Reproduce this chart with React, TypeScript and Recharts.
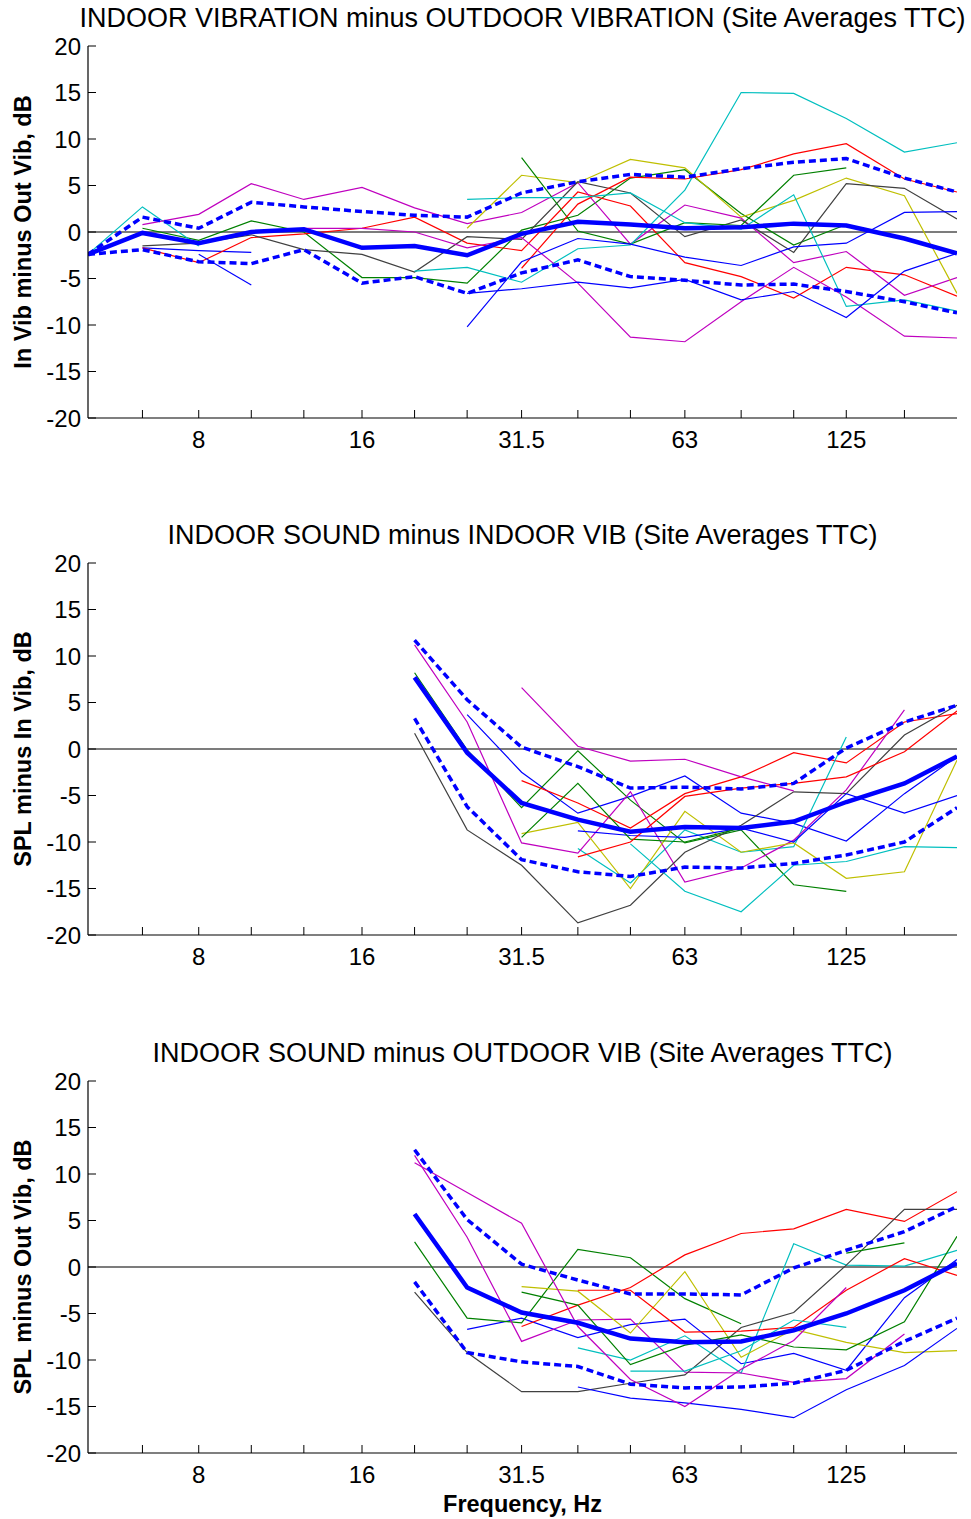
import React from 'react';
import { LineChart, Line, XAxis, YAxis, ReferenceLine } from 'recharts';

// 1/3-octave band centres, Hz
const FREQS = [5, 6.3, 8, 10, 12.5, 16, 20, 25, 31.5, 40, 50, 63, 80, 100, 125, 160, 200];
const X_TICKS = [6.3, 8, 10, 12.5, 16, 20, 25, 31.5, 40, 50, 63, 80, 100, 125, 160];
const X_LABELS = [8, 16, 31.5, 63, 125];
const Y_TICKS = [-20, -15, -10, -5, 0, 5, 10, 15, 20];

const _ = null;

// MATLAB default colour order
const BLUE = '#0000FF';
const GREEN = '#008000';
const RED = '#FF0000';
const CYAN = '#00BFBF';
const MAGENTA = '#BF00BF';
const YELLOW = '#BFBF00';
const GRAY = '#404040';

// ---- panel 1: indoor vib minus outdoor vib ----
const vibBlue1 = [_, -1.7, -2.0, -2.2, _, _, _, _, _, _, _, _, _, _, _, _, _];
const vibBlue2 = [_, _, -2.4, -5.7, _, _, _, _, _, _, _, _, _, _, _, _, _];
const vibBlue3 = [_, _, _, _, _, _, _, -10.2, -3.2, -0.7, -1.3, -2.7, -3.6, -1.6, -1.2, 2.1, 2.2];
const vibBlue4 = [_, _, _, _, _, _, _, -6.6, -6.1, -5.4, -6.0, -5.1, -7.3, -6.4, -9.2, -4.2, -2.3];
const vibGreen1 = [_, 0.4, -0.9, 1.2, 0.0, -4.9, -4.9, -5.5, 0.2, 1.8, 5.8, 6.7, 2.0, -1.4, 0.8, _, _];
const vibGreen2 = [_, _, _, _, _, _, _, _, 8.0, 0.1, -1.3, 1.0, 0.7, 6.1, 6.9, _, _];
const vibRed1 = [_, -1.7, -3.3, -0.6, -0.2, 0.4, 1.6, -1.2, -2.0, 4.3, 2.8, -3.3, -4.8, -7.1, -3.8, -4.6, -6.9];
const vibRed2 = [_, _, _, _, _, _, _, _, -3.9, 3.0, 5.9, 5.7, 6.7, 8.4, 9.5, 5.7, 4.3];
const vibCyan1 = [-2.4, 2.7, -1.5, _, _, _, _, _, _, _, _, _, _, _, _, _, _];
const vibCyan2 = [_, _, _, _, _, _, -4.2, -3.8, -5.4, -1.8, -1.4, 4.5, 15.0, 14.9, 12.2, 8.6, 9.6];
const vibCyan3 = [_, _, _, _, _, _, _, 3.5, 3.7, 3.7, 4.2, 1.0, 0.3, 4.0, -8.0, -7.3, -8.5];
const vibMagenta1 = [_, 0.8, 1.9, 5.2, 3.5, 4.8, 2.6, 0.9, 2.1, 5.3, -1.3, 2.9, 1.5, -3.3, -2.1, -6.8, -4.9];
const vibMagenta2 = [_, _, _, _, 0.4, 0.4, 0.0, -1.7, -0.6, -5.5, -11.3, -11.8, -7.5, -3.8, -7.0, -11.2, -11.4];
const vibYellow1 = [_, _, _, _, _, _, _, 0.4, 6.1, 5.3, 7.8, 6.9, 1.6, 3.4, 5.8, 3.9, -6.6];
const vibGray1 = [_, -1.5, -1.2, -0.3, -1.9, -2.4, -4.3, -0.5, -0.8, 5.4, 4.2, -0.5, 1.3, -2.2, 5.2, 4.7, 1.4];
const vibMean = [-2.4, -0.1, -1.2, 0.0, 0.3, -1.7, -1.5, -2.5, -0.2, 1.1, 0.8, 0.4, 0.5, 0.9, 0.7, -0.7, -2.3];
const vibUpper = [-2.4, 1.6, 0.4, 3.2, 2.7, 2.2, 1.8, 1.6, 4.2, 5.4, 6.2, 5.9, 6.8, 7.5, 7.9, 5.8, 4.3];
const vibLower = [-2.4, -1.9, -3.2, -3.4, -1.9, -5.5, -4.8, -6.6, -4.4, -3.0, -4.8, -5.2, -5.7, -5.6, -6.4, -7.5, -8.7];

// ---- panel 2: indoor SPL minus indoor vib ----
const splInBlue1 = [_, _, _, _, _, _, _, 3.7, -2.5, -6.9, -5.1, -2.9, -6.9, -8.0, -9.9, -4.8, -0.8];
const splInBlue2 = [_, _, _, _, _, _, _, _, _, -8.8, -9.3, -9.5, -8.5, -10.0, -4.8, -6.9, -5.0];
const splInGreen1 = [_, _, _, _, _, _, 8.2, -0.1, -6.3, -0.2, -5.5, -10.1, -8.7, -14.6, -15.3, _, _];
const splInGreen2 = [_, _, _, _, _, _, _, _, -9.5, -3.7, -9.7, -10.0, -8.5, _, _, _, _];
const splInRed1 = [_, _, _, _, _, _, _, _, -3.4, -5.8, -8.5, -4.8, -3.0, -0.4, -1.5, 2.9, 3.8];
const splInRed2 = [_, _, _, _, _, _, _, _, _, -11.6, -10.0, -5.1, -4.2, -3.7, -3.0, -0.3, 4.1];
const splInCyan1 = [_, _, _, _, _, _, _, _, _, -10.7, -14.4, -8.7, -11.1, -10.5, 1.3, _, _];
const splInCyan2 = [_, _, _, _, _, _, _, _, _, _, -10.2, -15.3, -17.5, -12.5, -12.1, -10.5, -10.6];
const splInMagenta1 = [_, _, _, _, _, _, 11.2, 2.9, -10.1, -11.2, -4.6, -14.3, -12.8, -9.8, -4.4, 4.2, _];
const splInMagenta2 = [_, _, _, _, _, _, _, _, 6.6, 0.3, -1.3, -1.1, -3.0, -4.5, _, _, _];
const splInYellow1 = [_, _, _, _, _, _, _, _, -9.1, -7.9, -15.0, -6.7, -11.1, -10.1, -13.9, -13.2, -1.2];
const splInGray1 = [_, _, _, _, _, _, 1.7, -8.7, -12.5, -18.7, -16.8, -11.1, -8.2, -4.6, -4.8, 1.5, 4.7];
const splInMean = [_, _, _, _, _, _, 7.7, -0.4, -5.8, -7.6, -8.9, -8.4, -8.5, -7.8, -5.7, -3.7, -0.8];
const splInUpper = [_, _, _, _, _, _, 11.7, 5.3, 0.2, -1.9, -4.2, -4.1, -4.3, -3.7, 0.1, 2.9, 4.7];
const splInLower = [_, _, _, _, _, _, 3.3, -6.2, -11.9, -13.2, -13.7, -12.7, -12.8, -12.3, -11.4, -10.0, -6.3];

// ---- panel 3: indoor SPL minus outdoor vib ----
const splOutBlue1 = [_, _, _, _, _, _, _, -6.7, -5.5, -7.6, -6.2, -5.6, -10.4, -9.3, -11.1, -3.3, 0.8];
const splOutBlue2 = [_, _, _, _, _, _, _, _, _, -12.9, -14.1, -14.6, -15.3, -16.2, -13.2, -10.6, -6.6];
const splOutGreen1 = [_, _, _, _, _, _, 2.7, -5.5, -6.0, 1.9, 1.0, -3.4, -6.1, _, _, _, _];
const splOutGreen2 = [_, _, _, _, _, _, _, _, -2.7, -4.1, -10.5, -8.4, -7.3, -8.6, -8.9, -5.9, 3.3];
const splOutGreen3 = [_, _, _, _, _, _, _, _, _, _, _, _, _, _, 1.5, 2.6, _];
const splOutRed1 = [_, _, _, _, _, _, _, _, -6.4, -4.1, -2.2, 1.3, 3.6, 4.1, 6.2, 4.9, 8.1];
const splOutRed2 = [_, _, _, _, _, _, _, _, _, -2.5, -2.5, -7.0, -6.9, -6.5, -2.5, 0.9, -0.9];
const splOutCyan1 = [_, _, _, _, _, _, _, _, _, -8.7, -10.0, -7.4, -11.4, 2.5, 0.2, 0.1, 1.8];
const splOutCyan2 = [_, _, _, _, _, _, _, _, _, _, -11.2, -11.2, -9.0, -5.7, -6.5, _, _];
const splOutMagenta1 = [_, _, _, _, _, _, 12.0, 3.2, -8.0, -5.7, -5.6, -11.3, -11.4, -12.4, -12.0, -7.2, _];
const splOutMagenta2 = [_, _, _, _, _, _, 11.2, 8.0, 4.7, -6.4, -12.1, -15.0, -11.0, -7.9, -2.2, _, _];
const splOutYellow1 = [_, _, _, _, _, _, _, _, -2.1, -2.6, -7.1, -0.5, -9.7, -6.7, -8.1, -9.2, -9.0];
const splOutGray1 = [_, _, _, _, _, _, -2.7, -9.2, -13.4, -13.4, -12.5, -11.6, -6.5, -4.9, 0.2, 6.2, 6.2];
const splOutMean = [_, _, _, _, _, _, 5.7, -2.2, -4.9, -6.0, -7.7, -8.1, -8.0, -6.8, -5.0, -2.5, 0.4];
const splOutUpper = [_, _, _, _, _, _, 12.6, 5.1, 0.3, -1.4, -2.9, -2.9, -3.0, -0.1, 1.8, 3.8, 6.5];
const splOutLower = [_, _, _, _, _, _, -1.6, -9.2, -10.2, -10.7, -12.6, -13.0, -12.9, -12.5, -11.1, -8.0, -5.5];

type Site = { color: string; values: (number | null)[] };

const vibSites: Site[] = [
  { color: BLUE, values: vibBlue1 },
  { color: GREEN, values: vibGreen1 },
  { color: RED, values: vibRed1 },
  { color: CYAN, values: vibCyan1 },
  { color: MAGENTA, values: vibMagenta1 },
  { color: YELLOW, values: vibYellow1 },
  { color: GRAY, values: vibGray1 },
  { color: BLUE, values: vibBlue2 },
  { color: GREEN, values: vibGreen2 },
  { color: RED, values: vibRed2 },
  { color: CYAN, values: vibCyan2 },
  { color: MAGENTA, values: vibMagenta2 },
  { color: BLUE, values: vibBlue3 },
  { color: CYAN, values: vibCyan3 },
  { color: BLUE, values: vibBlue4 },
];

const splInSites: Site[] = [
  { color: BLUE, values: splInBlue1 },
  { color: GREEN, values: splInGreen1 },
  { color: RED, values: splInRed1 },
  { color: CYAN, values: splInCyan1 },
  { color: MAGENTA, values: splInMagenta1 },
  { color: YELLOW, values: splInYellow1 },
  { color: GRAY, values: splInGray1 },
  { color: BLUE, values: splInBlue2 },
  { color: GREEN, values: splInGreen2 },
  { color: RED, values: splInRed2 },
  { color: CYAN, values: splInCyan2 },
  { color: MAGENTA, values: splInMagenta2 },
];

const splOutSites: Site[] = [
  { color: BLUE, values: splOutBlue1 },
  { color: GREEN, values: splOutGreen1 },
  { color: RED, values: splOutRed1 },
  { color: CYAN, values: splOutCyan1 },
  { color: MAGENTA, values: splOutMagenta1 },
  { color: YELLOW, values: splOutYellow1 },
  { color: GRAY, values: splOutGray1 },
  { color: BLUE, values: splOutBlue2 },
  { color: GREEN, values: splOutGreen2 },
  { color: RED, values: splOutRed2 },
  { color: CYAN, values: splOutCyan2 },
  { color: MAGENTA, values: splOutMagenta2 },
  { color: GREEN, values: splOutGreen3 },
];

const FONT = '"Liberation Sans", Arial, Helvetica, sans-serif';
const TICK_FONT = 24;
const TICK_LEN = 8;

const BottomTick = (props: any) => {
  const { x, y, payload } = props;
  const v = payload.value;
  return (
    <g>
      <line x1={x} y1={y} x2={x} y2={y - TICK_LEN} stroke="#000" strokeWidth={1} />
      {X_LABELS.includes(v) && (
        <text x={x} y={y + 21} textAnchor="middle" dominantBaseline="central"
          fontSize={TICK_FONT} fontFamily={FONT} fill="#000">{v}</text>
      )}
    </g>
  );
};

const TopTick = (props: any) => {
  const { x, y } = props;
  return <line x1={x} y1={y} x2={x} y2={y + TICK_LEN} stroke="#000" strokeWidth={1} />;
};

const LeftTick = (props: any) => {
  const { x, y, payload } = props;
  return (
    <g>
      <line x1={x} y1={y} x2={x + TICK_LEN} y2={y} stroke="#000" strokeWidth={1} />
      <text x={x - 7} y={y} textAnchor="end" dominantBaseline="central"
        fontSize={TICK_FONT} fontFamily={FONT} fill="#000">{payload.value}</text>
    </g>
  );
};

const RightTick = (props: any) => {
  const { x, y } = props;
  return <line x1={x} y1={y} x2={x - TICK_LEN} y2={y} stroke="#000" strokeWidth={1} />;
};

const CHART_W = 971;
const CHART_H = 470;
const PLOT_TOP = 46;
const PLOT_H = 372;
const PLOT_LEFT = 88;
const PLOT_RIGHT_GAP = 14;

interface PanelProps {
  top: number;
  title: string;
  yLabel: string;
  sites: Site[];
  mean: (number | null)[];
  upper: (number | null)[];
  lower: (number | null)[];
}

const Panel: React.FC<PanelProps> = ({ top, title, yLabel, sites, mean, upper, lower }) => {
  const data = FREQS.map((f, i) => {
    const row: Record<string, number | null> = { f, mean: mean[i], upper: upper[i], lower: lower[i] };
    sites.forEach((s, k) => { row[`s${k}`] = s.values[i]; });
    return row;
  });

  return (
    <div style={{ position: 'absolute', left: 0, top, width: CHART_W, height: CHART_H }}>
      <div style={{
        position: 'absolute', left: PLOT_LEFT - 40, width: CHART_W - PLOT_LEFT - PLOT_RIGHT_GAP + 80, top: 3,
        textAlign: 'center', fontFamily: FONT, fontSize: 27, lineHeight: '30px', whiteSpace: 'nowrap',
      }}>{title}</div>
      <div style={{
        position: 'absolute', left: 23, top: PLOT_TOP + PLOT_H / 2,
        transform: 'translate(-50%, -50%) rotate(-90deg)', whiteSpace: 'nowrap',
        fontFamily: FONT, fontWeight: 'bold', fontSize: 23.5,
      }}>{yLabel}</div>
      <LineChart width={CHART_W} height={CHART_H} data={data}
        margin={{ top: PLOT_TOP, right: PLOT_RIGHT_GAP, bottom: 0, left: 0 }}>
        <XAxis dataKey="f" type="number" scale="log" domain={[5, 200]} allowDataOverflow
          ticks={X_TICKS} interval={0} height={CHART_H - PLOT_TOP - PLOT_H}
          tickSize={0} tickMargin={0} tickLine={false} tick={<BottomTick />}
          axisLine={{ stroke: '#000', strokeWidth: 1.2 }} />
        <XAxis xAxisId="top" orientation="top" dataKey="f" type="number" scale="log" domain={[5, 200]}
          allowDataOverflow ticks={X_TICKS} interval={0} height={0}
          tickSize={0} tickMargin={0} tickLine={false} tick={<TopTick />}
          axisLine={{ stroke: '#000', strokeWidth: 1.2 }} />
        <YAxis type="number" domain={[-20, 20]} ticks={Y_TICKS} interval={0} width={PLOT_LEFT}
          allowDataOverflow tickSize={0} tickMargin={0} tickLine={false} tick={<LeftTick />}
          axisLine={{ stroke: '#000', strokeWidth: 1.2 }} />
        <YAxis yAxisId="right" orientation="right" type="number" domain={[-20, 20]} ticks={Y_TICKS}
          interval={0} width={0} allowDataOverflow tickSize={0} tickMargin={0} tickLine={false}
          tick={<RightTick />} axisLine={{ stroke: '#000', strokeWidth: 1.2 }} />
        <ReferenceLine y={0} stroke="#505050" strokeWidth={1.4} />
        {sites.map((s, k) => (
          <Line key={k} dataKey={`s${k}`} type="linear" stroke={s.color} strokeWidth={1.2}
            dot={false} activeDot={false} isAnimationActive={false} />
        ))}
        <Line dataKey="upper" type="linear" stroke={BLUE} strokeWidth={3.5} strokeDasharray="7 4"
          dot={false} activeDot={false} isAnimationActive={false} />
        <Line dataKey="lower" type="linear" stroke={BLUE} strokeWidth={3.5} strokeDasharray="7 4"
          dot={false} activeDot={false} isAnimationActive={false} />
        <Line dataKey="mean" type="linear" stroke={BLUE} strokeWidth={4.5}
          dot={false} activeDot={false} isAnimationActive={false} />
      </LineChart>
    </div>
  );
};

export default function App() {
  return (
    <div style={{ position: 'absolute', left: 0, top: 0, width: 971, height: 1519, background: '#fff' }}>
      <Panel top={0} title="INDOOR VIBRATION minus OUTDOOR VIBRATION (Site Averages TTC)"
        yLabel="In Vib minus Out Vib, dB" sites={vibSites}
        mean={vibMean} upper={vibUpper} lower={vibLower} />
      <Panel top={517} title="INDOOR SOUND minus INDOOR VIB (Site Averages TTC)"
        yLabel="SPL minus In Vib, dB" sites={splInSites}
        mean={splInMean} upper={splInUpper} lower={splInLower} />
      <Panel top={1035} title="INDOOR SOUND minus OUTDOOR VIB (Site Averages TTC)"
        yLabel="SPL minus Out Vib, dB" sites={splOutSites}
        mean={splOutMean} upper={splOutUpper} lower={splOutLower} />
      <div style={{
        position: 'absolute', left: PLOT_LEFT, width: CHART_W - PLOT_LEFT - PLOT_RIGHT_GAP, top: 1490,
        textAlign: 'center', fontFamily: FONT, fontWeight: 'bold', fontSize: 23.5, lineHeight: '28px',
      }}>Frequency, Hz</div>
    </div>
  );
}
